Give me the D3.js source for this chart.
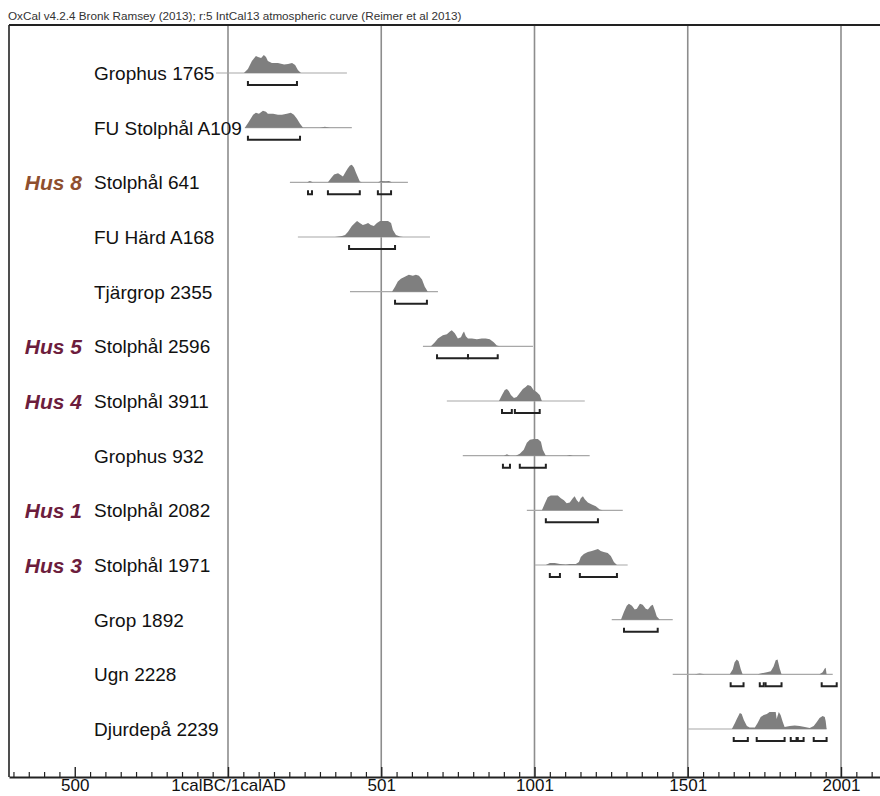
<!DOCTYPE html>
<html>
<head>
<meta charset="utf-8">
<script src="https://cdn.jsdelivr.net/npm/d3@7"></script>
<style>
  html, body { margin: 0; padding: 0; background: #fff; }
  svg { display: block; font-family: "Liberation Sans", Arial, sans-serif; }
</style>
</head>
<body>
<svg id="chart" width="880" height="796"></svg>
<script>
// Sample names, top to bottom
const sampleNames = [
  "Grophus 1765", "FU Stolphål A109", "Stolphål 641", "FU Härd A168",
  "Tjärgrop 2355", "Stolphål 2596", "Stolphål 3911", "Grophus 932",
  "Stolphål 2082", "Stolphål 1971", "Grop 1892", "Ugn 2228", "Djurdepå 2239"
];

// House attribution per sample ("" = none)
const houseNames = ["", "", "Hus 8", "", "", "Hus 5", "Hus 4", "", "Hus 1", "Hus 3", "", "", ""];

// Extent of the calibrated likelihood tail (calendar years, AD positive)
const tailRanges = [
  [-38, 389], [56, 405], [203, 588], [229, 660], [399, 686], [637, 996], [715, 1165],
  [767, 1181], [976, 1289], [1002, 1305], [1253, 1452], [1452, 1974], [1501, 1954]
];

// Calibrated probability distributions: [year, relative probability]
const densities = [
  [[53,0],[66,.22],[79,.67],[92,.94],[99,.89],[109,.83],[118,1],[125,.89],[131,.67],[144,.56],[164,.56],[184,.47],[197,.5],[210,.56],[220,.44],[229,.17],[239,0]],
  [[56,0],[69,.33],[83,.72],[92,.83],[102,.78],[115,.94],[125,.89],[131,.78],[148,.78],[164,.72],[177,.72],[193,.78],[206,.83],[216,.72],[226,.5],[236,.22],[246,0],[301,0],[317,.05],[334,0]],
  [[259,0],[268,.08],[278,0],[327,0],[337,.22],[347,.44],[360,.5],[370,.39],[376,.33],[386,.61],[392,.78],[399,.94],[405,.97],[412,.83],[418,.56],[425,.28],[431,.05],[438,0],[490,0],[500,.08],[516,.06],[526,.08],[536,0]],
  [[350,0],[373,.05],[383,.11],[392,.28],[405,.61],[415,.78],[422,.89],[431,.78],[441,.67],[451,.72],[458,.78],[467,.67],[477,.61],[487,.78],[497,.89],[510,.89],[523,.89],[533,.78],[539,.39],[549,.11],[562,.03],[572,0]],
  [[536,0],[546,.28],[555,.56],[565,.72],[578,.83],[591,.94],[604,.89],[614,.94],[624,.89],[634,.67],[643,.28],[653,0]],
  [[663,0],[676,.22],[686,.44],[702,.61],[715,.67],[725,.83],[731,.89],[741,.72],[751,.44],[761,.5],[767,.72],[771,.83],[777,.56],[784,.44],[797,.44],[813,.39],[829,.44],[842,.44],[855,.39],[868,.22],[878,.05],[888,0]],
  [[885,0],[895,.33],[904,.61],[911,.67],[917,.56],[924,.33],[934,.17],[943,.22],[953,.44],[963,.67],[972,.78],[979,.89],[989,.83],[998,.61],[1008,.5],[1018,.33],[1025,0]],
  [[901,0],[911,.08],[921,0],[940,0],[953,.11],[966,.33],[976,.72],[986,.89],[999,.92],[1012,.92],[1022,.78],[1028,.33],[1038,0],[1106,0],[1116,.04],[1126,0]],
  [[1025,0],[1035,.39],[1044,.72],[1054,.83],[1067,.83],[1077,.83],[1087,.67],[1097,.56],[1106,.39],[1116,.44],[1126,.67],[1132,.78],[1139,.56],[1146,.44],[1152,.67],[1159,.78],[1165,.61],[1175,.44],[1188,.33],[1201,.22],[1214,.05],[1224,0]],
  [[1028,0],[1038,0],[1051,.11],[1067,.11],[1084,.06],[1103,.03],[1116,.06],[1136,.06],[1146,.17],[1152,.44],[1162,.61],[1175,.72],[1188,.78],[1198,.83],[1208,.89],[1217,.78],[1227,.72],[1240,.67],[1250,.5],[1260,.17],[1270,0]],
  [[1283,0],[1293,.44],[1302,.78],[1309,.89],[1319,.78],[1328,.56],[1335,.61],[1345,.89],[1354,.83],[1364,.61],[1371,.56],[1381,.78],[1387,.83],[1394,.5],[1400,.17],[1410,0]],
  [[1524,0],[1540,.04],[1557,0],[1638,0],[1648,.28],[1654,.67],[1661,.83],[1667,.72],[1674,.28],[1680,0],[1729,0],[1742,.06],[1759,.11],[1772,.17],[1781,.44],[1788,.78],[1794,.83],[1801,.33],[1807,0],[1931,0],[1941,.11],[1948,.33],[1951,.36],[1954,0]],
  [[1645,0],[1655,.33],[1661,.56],[1671,.89],[1677,.83],[1684,.5],[1694,.17],[1703,.08],[1720,.08],[1729,.33],[1739,.67],[1749,.78],[1759,.83],[1768,.94],[1778,.94],[1788,.94],[1791,.56],[1798,.94],[1804,.78],[1811,.39],[1817,.11],[1834,.17],[1850,.19],[1866,.17],[1883,.11],[1899,.06],[1912,.17],[1922,.39],[1931,.61],[1941,.72],[1948,.67],[1951,.44],[1954,0]]
];

// 95.4% probability ranges per sample
const ranges95 = [
  [[66, 226]],
  [[66, 236]],
  [[262, 275], [327, 431], [490, 533]],
  [[396, 546]],
  [[546, 650]],
  [[683, 784], [784, 881]],
  [[895, 927], [937, 1018]],
  [[898, 921], [953, 1038]],
  [[1038, 1208]],
  [[1051, 1084], [1149, 1270]],
  [[1293, 1403]],
  [[1641, 1683], [1736, 1749], [1755, 1807], [1938, 1987]],
  [[1651, 1697], [1726, 1817], [1837, 1856], [1860, 1879], [1912, 1954]]
];

// Axis
const majorTickYears = [-499, 1, 501, 1001, 1501, 2001];
const majorTickLabels = ["500", "1calBC/1calAD", "501", "1001", "1501", "2001"];
const gridYears = [1, 501, 1001, 1501, 2001];
const minorStep = 50;

const headerText = "OxCal v4.2.4 Bronk Ramsey (2013); r:5 IntCal13 atmospheric curve (Reimer et al 2013)";

const houseColors = { "Hus 8": "#8e4f2e" };
const houseDefaultColor = "#6c1d3d";

// ---- layout ----
const svg = d3.select("#chart");
const frame = { left: 9, top: 25, bottom: 777, right: 890 };

const xBase = d3.scaleLinear().domain([1, 2001]).range([228, 841]);
const x = d3.scaleLinear()
  .domain([xBase.invert(frame.left), xBase.invert(frame.right)])
  .range([frame.left, frame.right]);

const y = d3.scalePoint().domain(sampleNames).range([73, 729]);
const h = d3.scaleLinear().domain([0, 1]).range([0, 18]);

// header
svg.append("text")
  .attr("x", 8).attr("y", 20)
  .attr("font-size", 11.7)
  .attr("fill", "#333")
  .text(headerText);

// grid lines
svg.append("g").selectAll("line").data(gridYears).join("line")
  .attr("x1", d => x(d)).attr("x2", d => x(d))
  .attr("y1", frame.top).attr("y2", frame.bottom)
  .attr("stroke", "#8d8d8d").attr("stroke-width", 1.6);

// frame: top and left
svg.append("line")
  .attr("x1", frame.left).attr("x2", frame.right)
  .attr("y1", frame.top).attr("y2", frame.top)
  .attr("stroke", "#222").attr("stroke-width", 2);
svg.append("line")
  .attr("x1", frame.left).attr("x2", frame.left)
  .attr("y1", frame.top).attr("y2", frame.bottom)
  .attr("stroke", "#222").attr("stroke-width", 1.6);

// rows
const rows = svg.append("g").selectAll("g").data(sampleNames).join("g")
  .attr("transform", d => `translate(0,${y(d)})`);

// likelihood tail line
rows.append("line")
  .attr("x1", (d, i) => x(tailRanges[i][0]))
  .attr("x2", (d, i) => x(tailRanges[i][1]))
  .attr("stroke", "#a8a8a8").attr("stroke-width", 1.2);

// distribution
const area = d3.area()
  .x(d => x(d[0]))
  .y0(0)
  .y1(d => -h(d[1]));
rows.append("path")
  .attr("d", (d, i) => area(densities[i]))
  .attr("fill", "#7f7f7f");

// 95.4% range brackets
const bracketOffset = 12, bracketTick = 4;
rows.each(function (d, i) {
  d3.select(this).selectAll("path.rng").data(ranges95[i]).join("path")
    .attr("class", "rng")
    .attr("d", r => `M${x(r[0])},${bracketOffset - bracketTick}V${bracketOffset}H${x(r[1])}V${bracketOffset - bracketTick}`)
    .attr("fill", "none")
    .attr("stroke", "#222").attr("stroke-width", 2);
});

// sample labels
rows.append("text")
  .attr("x", 94).attr("dy", "0.36em")
  .attr("font-size", 19)
  .attr("fill", "#111")
  .text(d => d);

// house labels
rows.filter((d, i) => houseNames[i] !== "").append("text")
  .attr("x", 82).attr("dy", "0.36em")
  .attr("text-anchor", "end")
  .attr("font-size", 21)
  .attr("font-weight", "bold")
  .attr("font-style", "italic")
  .attr("fill", d => houseColors[houseNames[sampleNames.indexOf(d)]] || houseDefaultColor)
  .text(d => houseNames[sampleNames.indexOf(d)]);

// axis: major ticks with labels
const axisG = svg.append("g").attr("transform", `translate(0,${frame.bottom})`);
const labelOf = d3.scaleOrdinal().domain(majorTickYears).range(majorTickLabels);
axisG.call(
  d3.axisBottom(x)
    .tickValues(majorTickYears)
    .tickFormat(v => labelOf(v))
    .tickSizeInner(-10).tickSizeOuter(0).tickPadding(2)
);
axisG.select(".domain").attr("stroke", "#222").attr("stroke-width", 2);
axisG.selectAll(".tick line").attr("stroke", "#222").attr("stroke-width", 1.4);
axisG.selectAll(".tick text")
  .attr("font-size", 17)
  .attr("font-family", "Liberation Sans, Arial, sans-serif")
  .attr("fill", "#111");

// minor ticks
const minorYears = d3.range(majorTickYears[0] - 4 * minorStep, x.domain()[1], minorStep)
  .filter(v => x(v) > frame.left && !majorTickYears.includes(v));
const minorG = svg.append("g").attr("transform", `translate(0,${frame.bottom})`);
minorG.call(
  d3.axisBottom(x).tickValues(minorYears).tickFormat("").tickSizeInner(-5).tickSizeOuter(0)
);
minorG.select(".domain").remove();
minorG.selectAll(".tick line").attr("stroke", "#222").attr("stroke-width", 1.2);
</script>
</body>
</html>
